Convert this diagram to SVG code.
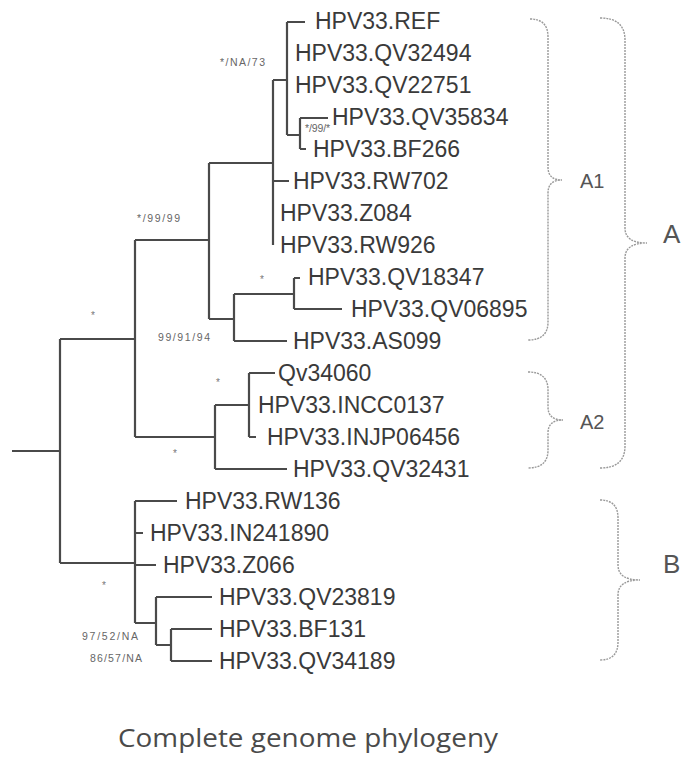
<svg xmlns="http://www.w3.org/2000/svg" width="684" height="760" viewBox="0 0 684 760">
<style>
.leaf{font-family:"Liberation Sans",Arial,sans-serif;font-size:23px;fill:#3a3a3a}
.sup{font-family:"Liberation Sans",Arial,sans-serif;font-size:10.5px;fill:#666}
.dot{font-family:"Liberation Sans",Arial,sans-serif;font-size:10px;fill:#777;text-anchor:middle}
.br{fill:none;stroke:#999;stroke-width:1.4;stroke-dasharray:2 1}
.cl{font-family:"Liberation Sans",Arial,sans-serif;fill:#555}
.tree{fill:none;stroke:#4a4a4a;stroke-width:2.2}
</style>
<rect width="684" height="760" fill="#fff"/>
<g id="connectors" class="tree">
<path d="M12,451H60M60,339V563M60,339H135M135,240V437M135,240H209M209,163V319M209,163H273M273,80V245M273,80H287M287,22V135M287,22H305M287,135H300M300,118V149M300,118H328M300,149H306M273,181H289"/>
<path d="M209,319H234M234,294V341M234,294H294M294,278V309M294,278H300M294,309H342M234,341H287"/>
<path d="M135,437H215M215,405V469M215,405H249M249,373V437M249,373H275M249,437H256M215,469H287"/>
<path d="M60,563H135M135,501V623M135,501H177M135,533H143M135,565H156M135,623H156M156,597V645M156,597H212M156,645H171M171,629V661M171,629H212M171,661H212"/>
</g>
<g id="leaf-REF"><text class="leaf" x="315" y="29">HPV33.REF</text></g>
<g id="leaf-QV32494"><text class="leaf" x="295" y="61">HPV33.QV32494</text></g>
<g id="leaf-QV22751"><text class="leaf" x="295" y="93">HPV33.QV22751</text></g>
<g id="leaf-QV35834"><text class="leaf" x="332" y="125">HPV33.QV35834</text></g>
<g id="leaf-BF266"><text class="leaf" x="313" y="157">HPV33.BF266</text></g>
<g id="leaf-RW702"><text class="leaf" x="293" y="189">HPV33.RW702</text></g>
<g id="leaf-Z084"><text class="leaf" x="280" y="221">HPV33.Z084</text></g>
<g id="leaf-RW926"><text class="leaf" x="280" y="253">HPV33.RW926</text></g>
<g id="leaf-QV18347"><text class="leaf" x="308" y="285">HPV33.QV18347</text></g>
<g id="leaf-QV06895"><text class="leaf" x="351" y="317">HPV33.QV06895</text></g>
<g id="leaf-AS099"><text class="leaf" x="293" y="349">HPV33.AS099</text></g>
<g id="leaf-Qv34060"><text class="leaf" x="278" y="381">Qv34060</text></g>
<g id="leaf-INCC0137"><text class="leaf" x="258" y="413">HPV33.INCC0137</text></g>
<g id="leaf-INJP06456"><text class="leaf" x="267" y="445">HPV33.INJP06456</text></g>
<g id="leaf-QV32431"><text class="leaf" x="293" y="477">HPV33.QV32431</text></g>
<g id="leaf-RW136"><text class="leaf" x="185" y="509">HPV33.RW136</text></g>
<g id="leaf-IN241890"><text class="leaf" x="150" y="541">HPV33.IN241890</text></g>
<g id="leaf-Z066"><text class="leaf" x="163" y="573">HPV33.Z066</text></g>
<g id="leaf-QV23819"><text class="leaf" x="219" y="605">HPV33.QV23819</text></g>
<g id="leaf-BF131"><text class="leaf" x="219" y="637">HPV33.BF131</text></g>
<g id="leaf-QV34189"><text class="leaf" x="219" y="669">HPV33.QV34189</text></g>
<g id="support">
<text class="sup" x="220" y="66" textLength="45">*/NA/73</text>
<text class="sup" x="305" y="132" textLength="25" font-size="9">*/99/*</text>
<text class="sup" x="137" y="222" textLength="43">*/99/99</text>
<text class="sup" x="158" y="341" textLength="52">99/91/94</text>
<text class="sup" x="82" y="640" textLength="56">97/52/NA</text>
<text class="sup" x="90" y="662" textLength="52">86/57/NA</text>
<text class="dot" x="262" y="283">*</text>
<text class="dot" x="93" y="319">*</text>
<text class="dot" x="218" y="386">*</text>
<text class="dot" x="175" y="457">*</text>
<text class="dot" x="104" y="589">*</text>
</g>
<g id="brace-A1"><path class="br" d="M530,19Q548,19 548,37V167Q548,180 562,180Q548,180 548,193V322Q548,340 528,340"/><text class="cl" x="580" y="188" font-size="20">A1</text></g>
<g id="brace-A2"><path class="br" d="M528,372Q548,372 548,390V407Q548,420 563,420Q548,420 548,433V450Q548,468 528,468"/><text class="cl" x="580" y="429" font-size="20">A2</text></g>
<g id="brace-A"><path class="br" d="M600,18Q625,18 625,40V228Q625,243 647,243Q625,243 625,258V446Q625,468 600,468"/><text class="cl" x="663" y="243" font-size="26">A</text></g>
<g id="brace-B"><path class="br" d="M600,500Q618,500 618,518V565Q618,580 640,580Q618,580 618,595V642Q618,660 600,660"/><text class="cl" x="663" y="573" font-size="26">B</text></g>
<text x="118" y="747" font-family="'Open Sans','Noto Sans',sans-serif" font-size="26" fill="#4a4a4a" textLength="380" lengthAdjust="spacingAndGlyphs">Complete genome phylogeny</text>
</svg>
